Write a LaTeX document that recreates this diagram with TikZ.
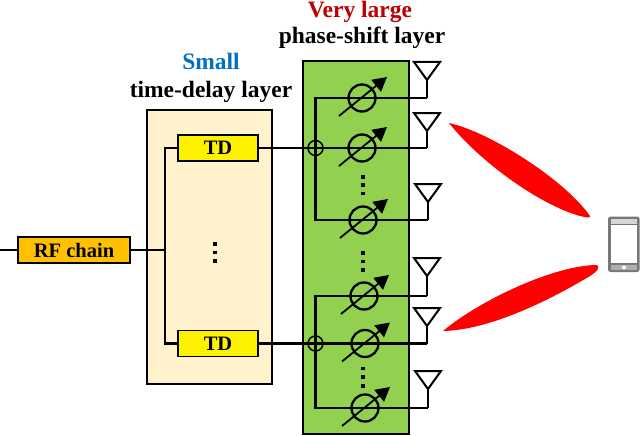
\documentclass[tikz,border=0pt]{standalone}
\usepackage{fontspec}
\setmainfont{Liberation Serif}
\usetikzlibrary{arrows.meta}
\definecolor{beigefill}{RGB}{255,242,204}
\definecolor{greenfill}{RGB}{146,208,80}
\definecolor{rforange}{RGB}{255,192,0}
\definecolor{smallblue}{RGB}{0,112,192}
\definecolor{largered}{RGB}{192,0,0}
\definecolor{phonegray}{RGB}{120,120,120}
\tikzset{
    wire/.style={line width=2.3pt, black},
    layerbox/.style={draw=black, line width=1.3pt, inner sep=0pt},
    blockbox/.style={draw=black, line width=1.6pt, inner sep=0pt, font=\bfseries\fontsize{20.5}{20.5}\selectfont, minimum height=26pt},
    layertext/.style={anchor=base, font=\bfseries\fontsize{23.5}{23.5}\selectfont},
    shifter/.style={circle, draw=black, line width=2.3pt, minimum size=27pt, inner sep=0pt},
    adder/.style={circle, draw=black, line width=1.5pt, minimum size=15pt, inner sep=0pt},
    vdot/.style={fill=black, minimum size=3.6pt, inner sep=0pt},
    antenna/.style={draw=black, line width=2pt, line join=miter},
    beam/.style={fill=red}
}
\begin{document}
\begin{tikzpicture}[x=1pt, y=-1pt]
    \useasboundingbox (0,0) rectangle (640,436);
    % Layer boxes
    \node[layerbox, fill=beigefill, minimum width=125pt, minimum height=274pt] (delaybox) at (209.5,247) {};
    \node[layerbox, fill=greenfill, minimum width=106pt, minimum height=373pt] (shiftbox) at (356,247.5) {};
    % Layer titles
    \node[layertext, text=smallblue] (smalltext) at (211,70) {Small};
    \node[layertext] (delaytext) at (211,98) {time-delay layer};
    \node[layertext, text=largered] (largetext) at (360,17.5) {Very large};
    \node[layertext] (shifttext) at (362,44) {phase-shift layer};
    % RF chain and time-delay units
    \coordinate (input) at (0,250);
    \node[blockbox, fill=rforange, minimum width=112pt] (rf) at (74,250) {RF chain};
    \node[blockbox, fill=yellow, minimum width=80pt] (td1) at (218,148) {TD};
    \node[blockbox, fill=yellow, minimum width=80pt] (td2) at (218,343.5) {TD};
    \coordinate (split) at (165,250);
    \draw[wire] (input) -- (rf);
    \draw[wire] (rf) -- (split);
    \draw[wire] (td1.west) -| (split) |- (td2.west);
    % Adders
    \node[adder] (add1) at (315.5,148) {};
    \node[adder] (add2) at (315.5,343.5) {};
    \draw[wire] (td1.east) -- (add1.center);
    \draw[wire] (td2.east) -- (add2.center);
    % Antennas
    \foreach \name/\x/\y/\z in {a1/427/62/98, a2/427/113/148, a3/428/184/220, a4/427/258/296, a5/427/308/343.5, a6/428/371/408}{
        \coordinate (\name top) at (\x,\y);
        \coordinate (\name tip) at (\x,\y+18);
        \coordinate (\name) at (\x,\z);
        \draw[antenna] (\x-13,\y) -- (\x+13,\y) -- (\name tip) -- cycle;
        \draw[wire] (\name tip) -- (\name);
    }
    % Phase shifters
    \foreach \name/\x/\y in {p1/362/98, p2/362/148, p3/363/220, p4/364/296, p5/365/343.5, p6/365/408}{
        \node[shifter] (\name) at (\x,\y) {};
        \coordinate (\name s) at (\x-23,\y+18);
        \coordinate (\name e) at (\x+25,\y-21);
        \draw[line width=1.8pt, -{Triangle[length=14pt,width=15pt]}] (\name s) -- (\name e);
    }
    % Feed lines
    \draw[wire] (a1) -- (p1.center) -- (add1.center |- p1) -- (add1.center |- p3) -- (a3);
    \draw[wire] (add1.center) -- (a2);
    \draw[wire] (a4) -- (add2.center |- p4) -- (add2.center |- p6) -- (a6);
    \draw[wire] (add2.center) -- (a5);
    % Dots
    \foreach \x/\y in {215/244, 215/252.5, 215/261, 363/177, 363/185, 363/193.5, 363/253, 363/261.5, 363/270, 363/368.5, 363/377, 363/386}
        \node[vdot] at (\x,\y) {};
    % Beams
    \fill[beam] (449,123) .. controls (490,132) and (565,180) .. (590,216) .. controls (591,219) and (585,217) .. (580,216) .. controls (540,205) and (480,162) .. cycle;
    \fill[beam] (443,331) .. controls (480,300) and (555,265) .. (597,265) .. controls (600,267) and (598,271) .. (590,276) .. controls (550,300) and (490,330) .. cycle;
    % Phone
    \fill[phonegray, rounded corners=2.5pt] (608,216.5) rectangle (639.5,272);
    \fill[white] (611,225) rectangle (637,263);
    \fill[white!70!phonegray] (611,219) rectangle (637,224);
    \fill[white!40!phonegray] (611,265) rectangle (637,270);
    \fill[white] (624,267.5) circle (2pt);
\end{tikzpicture}
\end{document}
